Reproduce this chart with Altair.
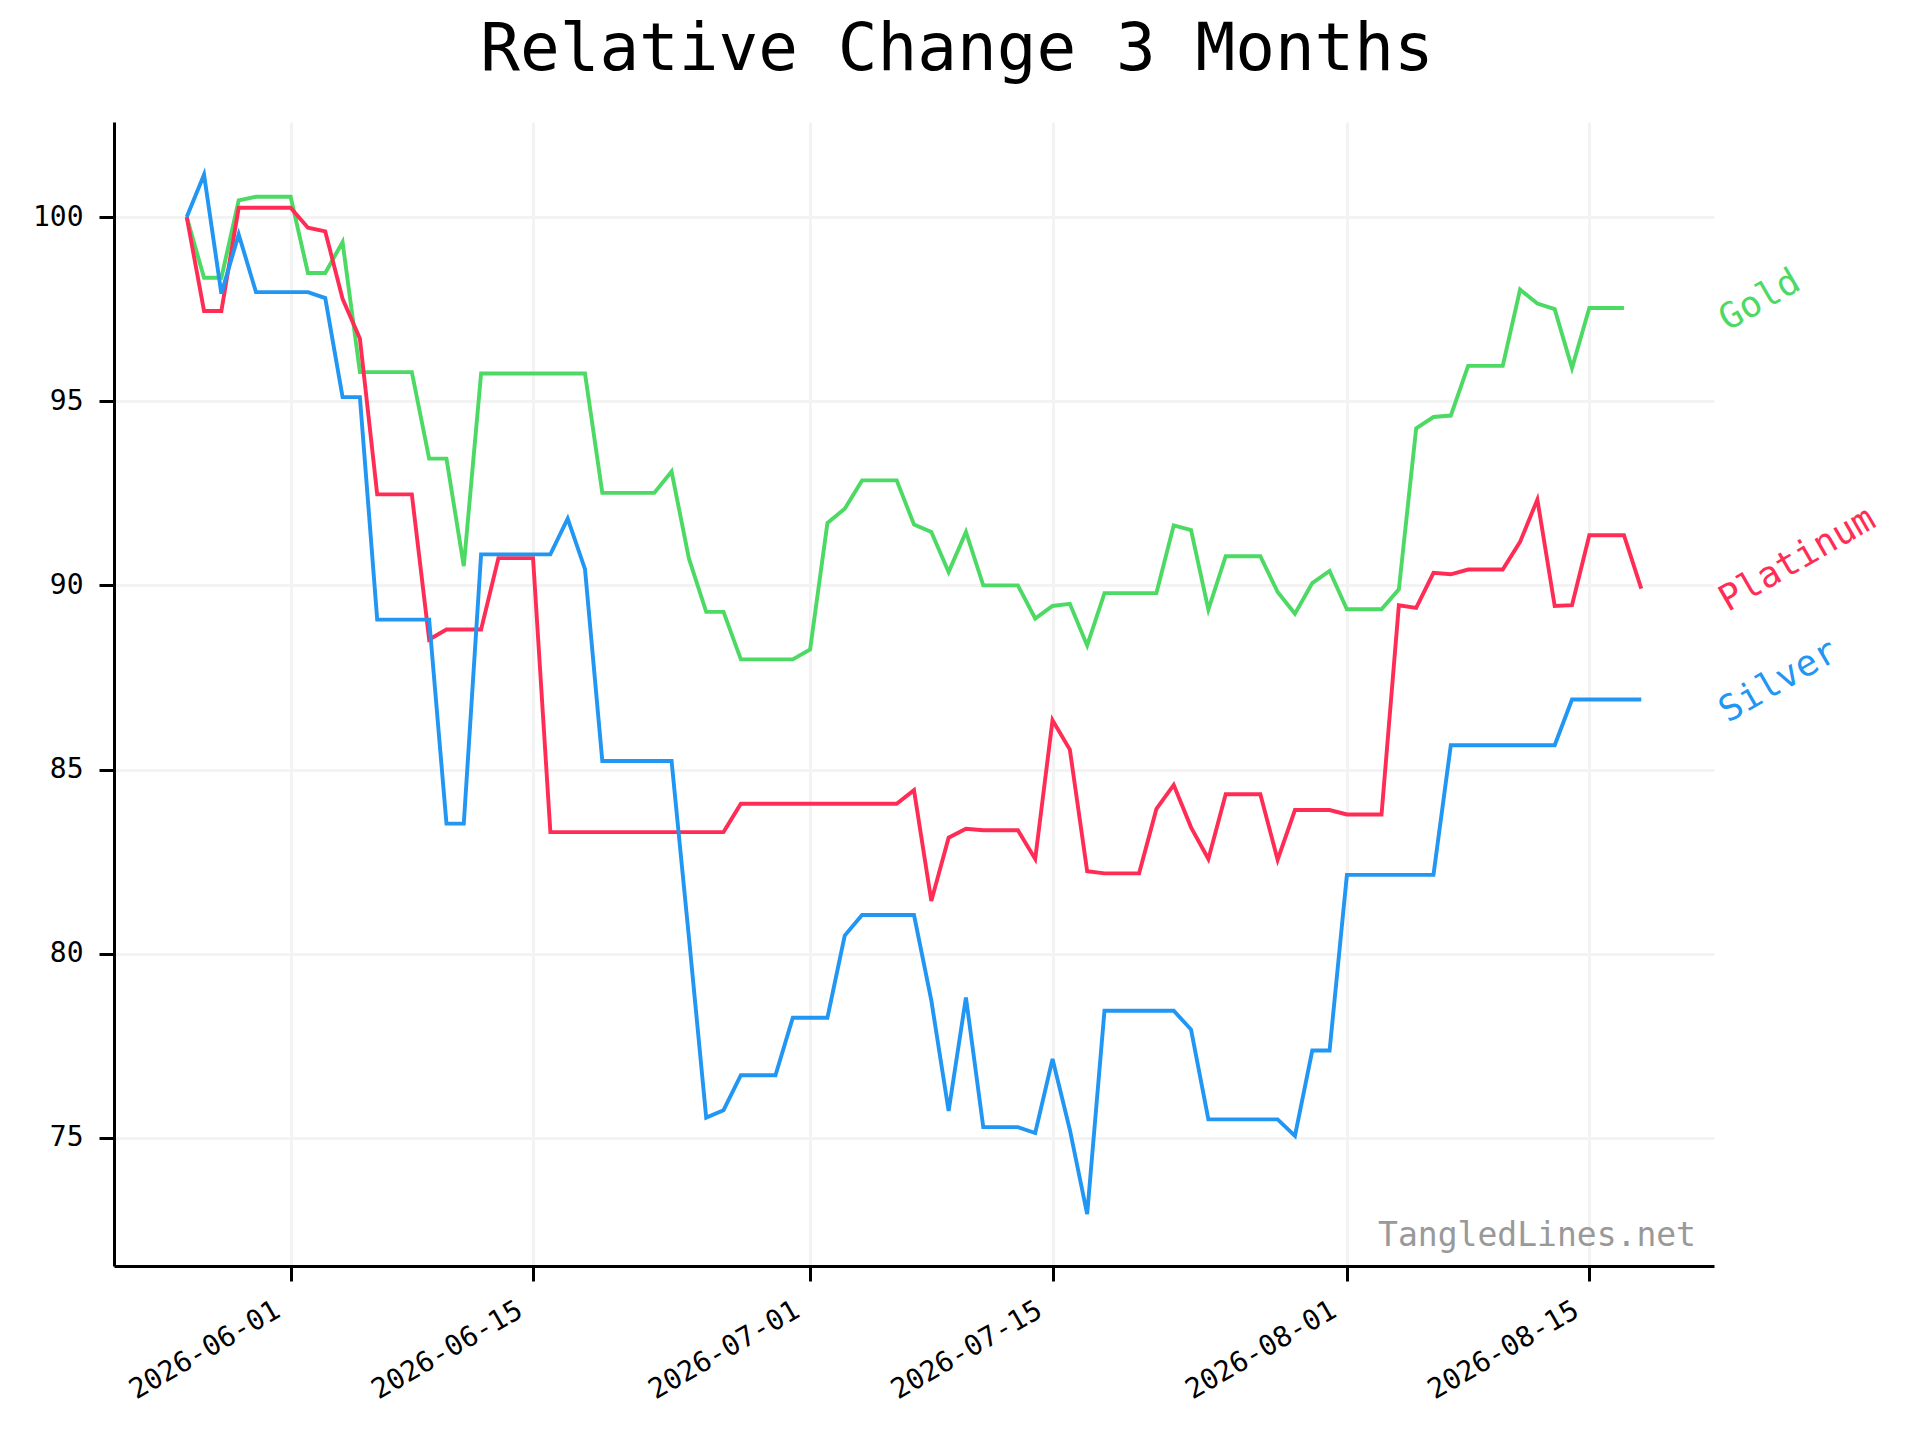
import altair as alt
import pandas as pd

FONT = "DejaVu Sans Mono"

start_date = "2026-05-26"
n_days = 85

metals = ["Gold", "Platinum", "Silver"]
colors = ["#4CD964", "#FF2D55", "#2196F3"]

gold = [100.0, 98.35, 98.35, 100.45, 100.55, 100.55, 100.55, 98.48, 98.48, 99.32,
        95.79, 95.79, 95.79, 95.79, 93.44, 93.44, 90.52, 95.75, 95.75, 95.75,
        95.75, 95.75, 95.75, 95.75, 92.51, 92.51, 92.51, 92.51, 93.09, 90.73,
        89.28, 89.28, 87.99, 87.99, 87.99, 87.99, 88.26, 91.69, 92.08, 92.85,
        92.85, 92.85, 91.65, 91.45, 90.36, 91.45, 90.00, 90.00, 90.00, 89.10,
        89.44, 89.50, 88.37, 89.79, 89.79, 89.79, 89.79, 91.63, 91.50, 89.34,
        90.79, 90.79, 90.79, 89.82, 89.23, 90.06, 90.39, 89.35, 89.35, 89.35,
        89.89, 94.26, 94.57, 94.61, 95.96, 95.96, 95.96, 98.03, 97.65, 97.50,
        95.90, 97.53, 97.53, 97.53]

platinum = [100.0, 97.45, 97.45, 100.25, 100.25, 100.25, 100.25, 99.71, 99.61, 97.78,
            96.70, 92.47, 92.47, 92.47, 88.53, 88.80, 88.80, 88.80, 90.74, 90.74,
            90.74, 83.30, 83.30, 83.30, 83.30, 83.30, 83.30, 83.30, 83.30, 83.30,
            83.30, 83.30, 84.07, 84.07, 84.07, 84.07, 84.07, 84.07, 84.07, 84.07,
            84.07, 84.07, 84.44, 81.43, 83.15, 83.39, 83.35, 83.35, 83.35, 82.57,
            86.34, 85.54, 82.24, 82.18, 82.18, 82.18, 83.93, 84.58, 83.43, 82.57,
            84.33, 84.33, 84.33, 82.55, 83.90, 83.90, 83.90, 83.78, 83.78, 83.78,
            89.46, 89.39, 90.34, 90.30, 90.43, 90.43, 90.43, 91.18, 92.33, 89.44,
            89.46, 91.36, 91.36, 91.36, 89.91]

silver = [100.0, 101.15, 97.92, 99.53, 97.96, 97.96, 97.96, 97.96, 97.80, 95.11,
          95.11, 89.07, 89.07, 89.07, 89.07, 83.53, 83.53, 90.84, 90.84, 90.84,
          90.84, 90.84, 91.81, 90.44, 85.23, 85.23, 85.23, 85.23, 85.23, 80.45,
          75.55, 75.75, 76.70, 76.70, 76.70, 78.26, 78.26, 78.26, 80.49, 81.05,
          81.05, 81.05, 81.05, 78.73, 75.73, 78.81, 75.29, 75.29, 75.29, 75.13,
          77.14, 75.22, 72.93, 78.45, 78.45, 78.45, 78.45, 78.45, 77.94, 75.50,
          75.50, 75.50, 75.50, 75.50, 75.05, 77.37, 77.37, 82.14, 82.14, 82.14,
          82.14, 82.14, 82.14, 85.66, 85.66, 85.66, 85.66, 85.66, 85.66, 85.66,
          86.90, 86.90, 86.90, 86.90, 86.90]

y_ticks = [75, 80, 85, 90, 95, 100]
x_ticks = ["2026-06-01", "2026-06-15", "2026-07-01", "2026-07-15", "2026-08-01", "2026-08-15"]
label_date = "2026-08-22"
watermark_text = "TangledLines.net"
title_text = "Relative Change 3 Months"

dates = pd.date_range(start_date, periods=n_days, freq="D")
rows = []
for name, vals in zip(metals, [gold, platinum, silver]):
    for d, v in zip(dates, vals):
        rows.append({"date": d, "value": v, "metal": name})
df = pd.DataFrame(rows)

labels_df = pd.DataFrame({
    "metal": metals,
    "date": [pd.Timestamp(label_date)] * 3,
    "value": [gold[-1], platinum[-1], silver[-1]],
})


def dt(s, hours=0, minutes=0):
    y, m, d = s.split("-")
    return alt.DateTime(year=int(y), month=int(m), date=int(d), hours=hours, minutes=minutes)


x_scale = alt.Scale(domain=[dt("2026-05-21", 19, 12), dt("2026-08-22", 4, 48)], nice=False)
y_scale = alt.Scale(domain=[71.52, 102.58], nice=False, zero=False)
color_scale = alt.Scale(domain=metals, range=colors)

x_enc = alt.X("date:T", scale=x_scale,
              axis=alt.Axis(values=[dt(s) for s in x_ticks], format="%Y-%m-%d",
                            labelAngle=330, labelAlign="right", labelBaseline="top",
                            labelOffset=-20, labelPadding=15, title=None, grid=True))
y_enc = alt.Y("value:Q", scale=y_scale,
              axis=alt.Axis(values=y_ticks, title=None, labelPadding=16, grid=True))
c_enc = alt.Color("metal:N", scale=color_scale, legend=None)

lines = alt.Chart(df).mark_line(strokeWidth=3.9).encode(x=x_enc, y=y_enc, color=c_enc)

series_labels = alt.Chart(labels_df).mark_text(
    font=FONT, fontSize=36, angle=330, align="left", baseline="alphabetic", dx=3, dy=29
).encode(x="date:T", y="value:Q", color=c_enc, text="metal:N")

watermark = alt.Chart(pd.DataFrame({"t": [watermark_text]})).mark_text(
    font=FONT, fontSize=33, color="#999999", align="right", baseline="alphabetic"
).encode(x=alt.value(1582), y=alt.value(1124), text="t:N")

chart = alt.layer(lines, series_labels, watermark).properties(
    width=1600, height=1144,
    background="white",
    title=alt.TitleParams(text=title_text, font=FONT, fontSize=66, fontWeight="normal",
                          color="black", anchor="middle", frame="group", offset=-28,
                          baseline="bottom", dx=43),
    autosize=alt.AutoSizeParams(type="none"),
    padding={"left": 106, "top": 114, "right": 198, "bottom": 174},
).configure_view(stroke=None).configure_axis(
    labelFont=FONT, labelFontSize=28, labelColor="black",
    domainColor="black", domainWidth=3,
    tickColor="black", tickWidth=3, tickSize=15,
    gridColor="#f3f3f3", gridWidth=3,
)

chart.save("out.html", embed_options={"renderer": "svg", "actions": False})
